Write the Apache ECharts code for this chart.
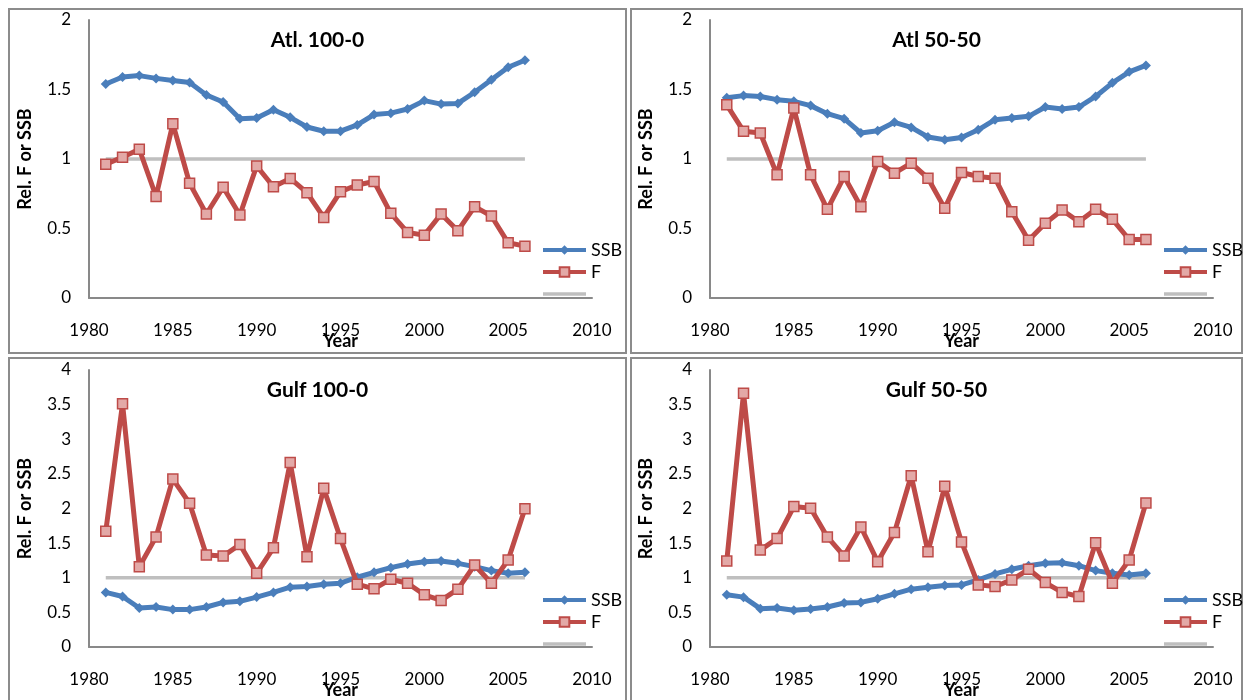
<!DOCTYPE html>
<html>
<head>
<meta charset="utf-8">
<script src="https://cdn.jsdelivr.net/npm/echarts@6/dist/echarts.min.js"></script>
<style>html,body{margin:0;padding:0;background:#fff;}#c{width:1245px;height:700px;}</style>
</head>
<body>
<div id="c"></div>
<script>
var years = [1981,1982,1983,1984,1985,1986,1987,1988,1989,1990,1991,1992,1993,1994,1995,1996,1997,1998,1999,2000,2001,2002,2003,2004,2005,2006];
var xTicks = [1980,1985,1990,1995,2000,2005,2010];
var refLine = [1,1,1,1,1,1,1,1,1,1,1,1,1,1,1,1,1,1,1,1,1,1,1,1,1,1];

var atl100SSB = [1.54,1.59,1.60,1.58,1.565,1.55,1.46,1.41,1.29,1.295,1.355,1.30,1.23,1.20,1.20,1.245,1.32,1.33,1.36,1.42,1.395,1.40,1.48,1.57,1.66,1.71];
var atl100F   = [0.963,1.013,1.07,0.73,1.254,0.825,0.604,0.797,0.597,0.95,0.80,0.86,0.758,0.58,0.765,0.813,0.838,0.609,0.472,0.452,0.604,0.484,0.657,0.59,0.397,0.373];

var atl50SSB = [1.44,1.456,1.45,1.427,1.415,1.384,1.326,1.29,1.187,1.203,1.264,1.227,1.158,1.138,1.155,1.21,1.283,1.295,1.307,1.374,1.36,1.374,1.45,1.548,1.627,1.673];
var atl50F   = [1.39,1.20,1.187,0.886,1.367,0.886,0.638,0.874,0.657,0.982,0.898,0.97,0.862,0.645,0.903,0.874,0.862,0.621,0.416,0.537,0.633,0.549,0.638,0.566,0.421,0.421];

var gulf100SSB = [0.788,0.73,0.563,0.578,0.54,0.54,0.578,0.644,0.659,0.721,0.788,0.864,0.874,0.907,0.921,1.007,1.079,1.146,1.198,1.232,1.241,1.208,1.16,1.103,1.064,1.079];
var gulf100F   = [1.67,3.513,1.16,1.59,2.425,2.076,1.327,1.313,1.48,1.064,1.432,2.663,1.303,2.291,1.566,0.907,0.84,0.979,0.921,0.754,0.673,0.835,1.184,0.921,1.255,1.995];

var gulf50SSB = [0.754,0.72,0.554,0.563,0.53,0.549,0.578,0.635,0.644,0.697,0.768,0.835,0.864,0.888,0.897,0.969,1.055,1.122,1.174,1.208,1.217,1.174,1.103,1.064,1.04,1.064];
var gulf50F   = [1.241,3.666,1.399,1.566,2.029,2.005,1.59,1.313,1.733,1.232,1.652,2.473,1.375,2.32,1.518,0.897,0.874,0.969,1.122,0.931,0.788,0.73,1.504,0.921,1.255,2.081];

var panelTitles = ['Atl. 100-0','Atl 50-50','Gulf 100-0','Gulf 50-50'];
var yMax = [2,2,4,4];
var seriesNames = ['SSB','F',' '];

var panels = [
  {ssb: atl100SSB, f: atl100F},
  {ssb: atl50SSB, f: atl50F},
  {ssb: gulf100SSB, f: gulf100F},
  {ssb: gulf50SSB, f: gulf50F}
];

var FONT = 'Lato';
var blue = '#4a7ebb', red = '#be4b48', gray = '#bfbfbf', axisGray = '#898989';

var grids = [
  {left: 89, top: 20, width: 503, height: 278},
  {left: 710, top: 20, width: 503, height: 278},
  {left: 89, top: 370, width: 503, height: 279},
  {left: 710, top: 370, width: 503, height: 279}
];
var borders = [
  [9, 9, 617, 344],
  [631, 9, 611, 344],
  [9, 358, 617, 350],
  [631, 358, 611, 350]
];

function pairs(arr){ return years.map(function(y,i){ return [y, arr[i]]; }); }

var option = {
  animation: false,
  backgroundColor: '#fff',
  grid: grids,
  xAxis: [],
  yAxis: [],
  legend: [],
  series: [],
  graphic: []
};

grids.forEach(function(g, k){
  option.xAxis.push({
    type: 'value', gridIndex: k, min: xTicks[0], max: xTicks[xTicks.length-1], interval: 5,
    name: 'Year', nameLocation: 'middle', nameGap: 34, nameMoveOverlap: false,
    nameTextStyle: {fontFamily: FONT, fontWeight: 'bold', fontSize: 18, color: '#000'},
    axisLine: {show: true, onZero: false, lineStyle: {color: axisGray, width: 2}},
    axisTick: {show: false}, splitLine: {show: false},
    axisLabel: {margin: 24, fontFamily: FONT, fontSize: 17, color: '#000', formatter: function(v){ return String(v); }}
  });
  option.yAxis.push({
    type: 'value', gridIndex: k, min: 0, max: yMax[k], interval: 0.5,
    name: 'Rel. F or SSB', nameLocation: 'middle', nameGap: 55, nameMoveOverlap: false,
    nameTextStyle: {fontFamily: FONT, fontWeight: 'bold', fontSize: 18, color: '#000'},
    axisLine: {show: true, lineStyle: {color: axisGray, width: 2}},
    axisTick: {show: false}, splitLine: {show: false},
    axisLabel: {margin: 18, fontFamily: FONT, fontSize: 17, color: '#000'}
  });
  var p = panels[k];
  option.series.push({
    name: seriesNames[0], type: 'line', xAxisIndex: k, yAxisIndex: k, data: pairs(p.ssb),
    symbol: 'diamond', symbolSize: 10, z: 3,
    lineStyle: {color: blue, width: 5}, itemStyle: {color: blue}
  });
  option.series.push({
    name: seriesNames[1], type: 'line', xAxisIndex: k, yAxisIndex: k, data: pairs(p.f),
    symbol: 'rect', symbolSize: 10, z: 4,
    lineStyle: {color: red, width: 5}, itemStyle: {color: '#e3a9a7', borderColor: red, borderWidth: 1.5}
  });
  option.series.push({
    name: seriesNames[2], type: 'line', xAxisIndex: k, yAxisIndex: k, data: pairs(refLine),
    symbol: 'none', showSymbol: false, z: 2,
    lineStyle: {color: gray, width: 3.5}, itemStyle: {color: gray}
  });
  option.legend.push({
    orient: 'vertical', left: g.left + 447, top: g.top + 216,
    itemWidth: 43, itemHeight: 12, itemGap: 4,
    lineStyle: {width: 4},
    data: [{name: 'SSB'}, {name: 'F'}, {name: ' ', itemStyle: {opacity: 0}, lineStyle: {width: 3.5}}],
    selectedMode: false,
    textStyle: {fontFamily: FONT, fontSize: 18, color: '#000', lineHeight: 18}
  });
  var b = borders[k];
  option.graphic.push({
    type: 'rect', shape: {x: b[0], y: b[1], width: b[2], height: b[3]},
    style: {fill: null, stroke: '#8c8c8c', lineWidth: 2}, z: -1, silent: true
  });
  option.graphic.push({
    type: 'text', x: b[0] + b[2]/2, y: g.top + 20,
    style: {text: panelTitles[k], textAlign: 'center', textVerticalAlign: 'middle',
            font: 'bold 21px ' + FONT, fill: '#000'}, silent: true
  });
});

var chart = echarts.init(document.getElementById('c'), null, {renderer: 'canvas'});
chart.setOption(option);
</script>
</body>
</html>
